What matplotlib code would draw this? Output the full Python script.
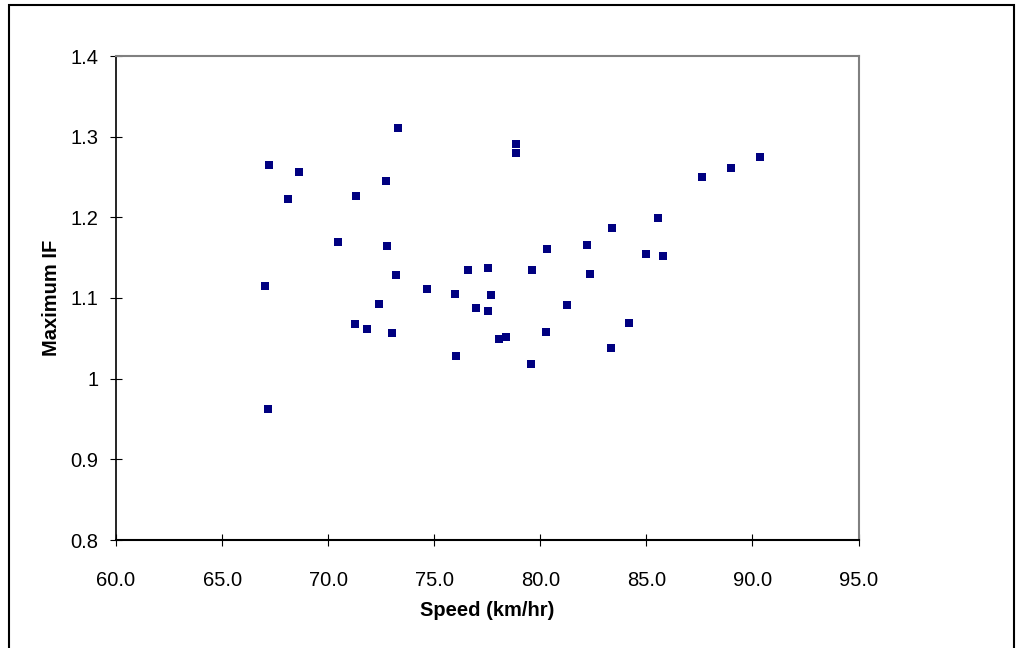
import matplotlib.pyplot as plt
from matplotlib.patches import Rectangle

plt.rcParams['font.family'] = ['Liberation Sans', 'DejaVu Sans']

speed = [73.28, 67.21, 68.61, 72.71, 68.11, 71.30, 70.45, 72.76, 73.19, 67.01,
         74.65, 78.84, 78.84, 87.63, 85.54, 83.37, 80.31, 82.19, 84.97, 85.77,
         76.58, 77.52, 79.60, 82.33, 75.97, 77.67, 76.96, 77.52, 81.25, 84.17,
         78.04, 78.37, 80.26, 83.32, 76.02, 79.55, 90.35, 88.98, 67.15, 72.39,
         71.25, 71.82, 73.00]
max_if = [1.311, 1.265, 1.256, 1.245, 1.223, 1.227, 1.170, 1.165, 1.129, 1.115,
          1.111, 1.291, 1.280, 1.250, 1.199, 1.187, 1.161, 1.166, 1.155, 1.152,
          1.135, 1.137, 1.135, 1.130, 1.105, 1.104, 1.088, 1.084, 1.091, 1.069,
          1.049, 1.052, 1.058, 1.038, 1.028, 1.018, 1.275, 1.261, 0.962, 1.093,
          1.068, 1.062, 1.057]

xticks = [60, 65, 70, 75, 80, 85, 90, 95]
yticks = [0.8, 0.9, 1.0, 1.1, 1.2, 1.3, 1.4]
ylabels = ['0.8', '0.9', '1', '1.1', '1.2', '1.3', '1.4']

fig = plt.figure(figsize=(10.21, 6.48), dpi=100)
ax = fig.add_axes([116/1021, 1-540/648, (858.5-116)/1021, (540-56)/648])

ax.scatter(speed, max_if, marker='s', s=36, color='#000080', linewidths=0, zorder=3)

ax.set_xlim(60, 95)
ax.set_ylim(0.8, 1.4)
ax.set_xticks(xticks)
ax.set_xticklabels([f'{v:.1f}' for v in xticks])
ax.set_yticks(yticks)
ax.set_yticklabels(ylabels)
ax.tick_params(axis='both', direction='inout', length=9, width=0.8, labelsize=14.5)
ax.tick_params(axis='x', pad=18)
ax.tick_params(axis='y', pad=8)

ax.spines['top'].set_color('#808080')
ax.spines['right'].set_color('#808080')
ax.spines['top'].set_linewidth(1.5)
ax.spines['right'].set_linewidth(1.5)
ax.spines['left'].set_linewidth(1.2)
ax.spines['bottom'].set_linewidth(1.5)

ax.set_xlabel('Speed (km/hr)', fontsize=14.5, fontweight='bold', labelpad=8)
ax.set_ylabel('Maximum IF', fontsize=14.5, fontweight='bold', labelpad=7)

# outer chart-area border
fig.patches.append(Rectangle((9/1021, -0.05), (1014-9)/1021, 1.05 - 5/648,
                             transform=fig.transFigure, fill=False,
                             edgecolor='black', linewidth=1.5))

fig.savefig('out.png', dpi=100)
